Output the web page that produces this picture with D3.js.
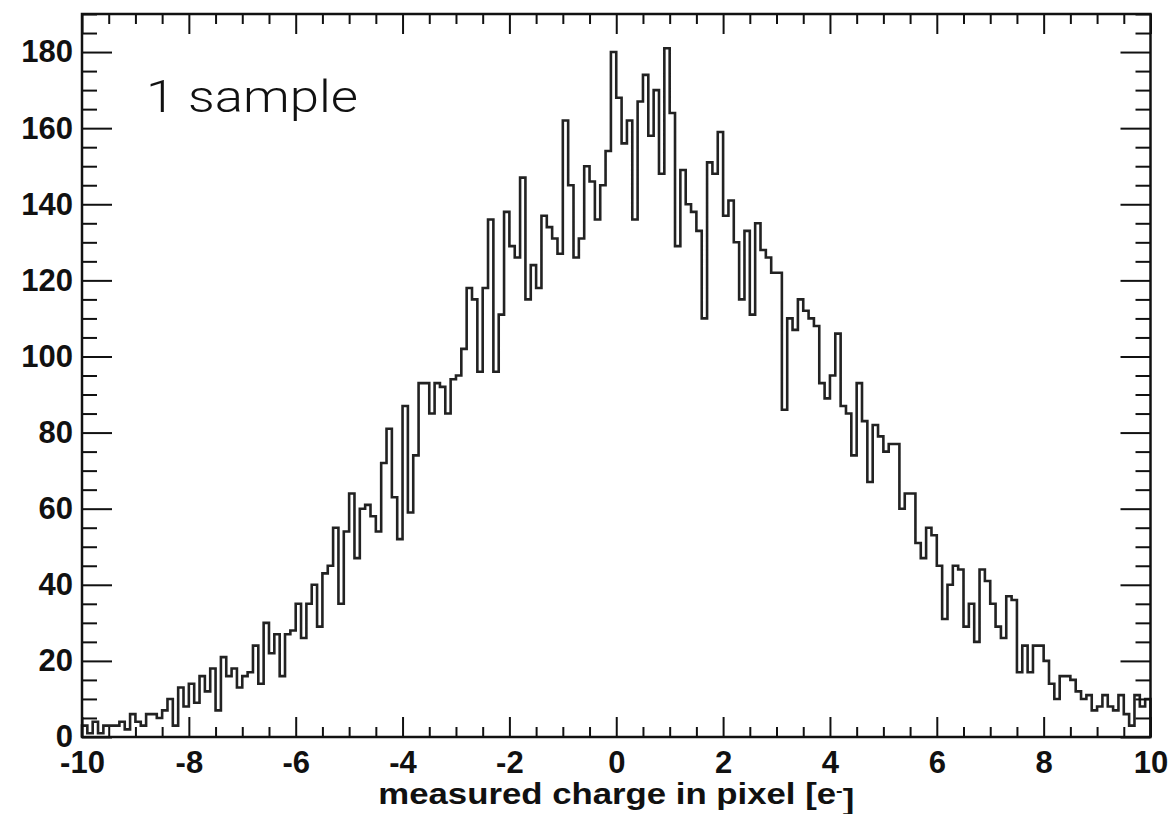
<!DOCTYPE html>
<html>
<head>
<meta charset="utf-8">
<script src="https://cdn.jsdelivr.net/npm/d3@7"></script>
<style>
  body { margin: 0; background: #fff; }
  svg { display: block; }
</style>
</head>
<body>
<svg width="1171" height="814"></svg>
<script>
// histogram: 200 bins from -10 to 10 e-, counts
var binRange = [-10, 10];
var counts = [
   3,  1,  4,  1,  3,  3,  3,  4,  2,  6,   //  -10.0 .. -9.1
   4,  3,  6,  6,  5,  7, 10,  3, 13,  8,   //   -9.0 .. -8.1
  14,  9, 16, 12, 18,  7, 21, 16, 18, 13,   //   -8.0 .. -7.1
  16, 17, 24, 14, 30, 22, 27, 16, 27, 28,   //   -7.0 .. -6.1
  35, 26, 35, 40, 29, 43, 45, 55, 35, 54,   //   -6.0 .. -5.1
  64, 47, 60, 61, 58, 54, 72, 81, 63, 52,   //   -5.0 .. -4.1
  87, 59, 74, 93, 93, 85, 93, 92, 85, 94,   //   -4.0 .. -3.1
  95,102,118,115, 96,118,136, 96,111,138,   //   -3.0 .. -2.1
 129,126,147,115,124,118,137,134,131,127,   //   -2.0 .. -1.1
 162,145,126,131,150,146,136,145,154,180,   //   -1.0 .. -0.1
 168,156,162,136,167,174,158,170,148,181,   //    0.0 ..  0.9
 164,129,149,140,138,133,110,151,148,159,   //    1.0 ..  1.9
 137,141,130,115,133,111,135,128,126,122,   //    2.0 ..  2.9
 122, 86,110,107,115,112,110,108, 93, 89,   //    3.0 ..  3.9
  95,106, 87, 85, 74, 93, 83, 67, 82, 79,   //    4.0 ..  4.9
  75, 77, 77, 60, 64, 64, 51, 47, 55, 53,   //    5.0 ..  5.9
  45, 31, 40, 45, 44, 29, 35, 25, 44, 41,   //    6.0 ..  6.9
  35, 29, 26, 37, 36, 17, 24, 17, 24, 24,   //    7.0 ..  7.9
  20, 14, 10, 16, 16, 15, 12, 10, 11,  7,   //    8.0 ..  8.9
   8, 11,  8,  7, 11,  6,  3, 11,  8, 10    //    9.0 ..  9.9
];

var yMajorTicks = [0, 20, 40, 60, 80, 100, 120, 140, 160, 180];
var yMinorTicks = d3.range(0, 191, 5);
var xMajorTicks = [-10, -8, -6, -4, -2, 0, 2, 4, 6, 8, 10];
var xMinorTicks = d3.range(-10, 10.01, 0.5);
var xTitle = "measured charge in pixel [e";
var annotation = "1 sample";

var svg = d3.select("svg"),
    margin = {top: 14, right: 20.5, bottom: 77, left: 82},
    width = +svg.attr("width"),
    height = +svg.attr("height");

var x = d3.scaleLinear().domain(binRange).range([margin.left, width - margin.right]),
    y = d3.scaleLinear().domain([0, 190]).range([height - margin.bottom, margin.top]);

// bin edges -> step outline, closed down to zero at both ends (ROOT style)
var nBins = counts.length,
    binW = (binRange[1] - binRange[0]) / nBins;
var pts = [[binRange[0], 0]];
counts.forEach(function (c, i) {
    pts.push([binRange[0] + i * binW, c]);
});
pts.push([binRange[1], counts[nBins - 1]]);
pts.push([binRange[1], 0]);

var line = d3.line()
    .curve(d3.curveStepAfter)
    .x(function (d) { return x(d[0]); })
    .y(function (d) { return y(d[1]); });

svg.append("path")
    .datum(pts)
    .attr("d", line)
    .attr("fill", "none")
    .attr("stroke", "#222")
    .attr("stroke-width", 2.6)
    .attr("stroke-linejoin", "miter");

// ticks: major + minor on all four sides, pointing inward
function clean(g) {
    g.select(".domain").remove();
    g.selectAll(".tick line").attr("stroke", "#111").attr("stroke-width", 2);
}
var notMajorY = function (v) { return yMajorTicks.indexOf(v) < 0; };
var notMajorX = function (v) { return xMajorTicks.indexOf(v) < 0; };

var labelFont = function (sel) {
    sel.selectAll("text")
        .attr("fill", "#111")
        .style("font-family", "'Liberation Sans', Arial, Helvetica, sans-serif")
        .style("font-weight", "bold")
        .style("font-size", "31px");
};

svg.append("g")
    .attr("transform", "translate(" + x.range()[0] + ",0)")
    .call(d3.axisLeft(y).tickValues(yMajorTicks).tickSize(-30).tickSizeOuter(0).tickPadding(9)
        .tickFormat(d3.format("d")))
    .call(clean)
    .call(labelFont);
svg.append("g")
    .attr("transform", "translate(" + x.range()[0] + ",0)")
    .call(d3.axisLeft(y).tickValues(yMinorTicks.filter(notMajorY)).tickSize(-15).tickFormat(""))
    .call(clean);

svg.append("g")
    .attr("transform", "translate(" + x.range()[1] + ",0)")
    .call(d3.axisRight(y).tickValues(yMajorTicks).tickSize(-30).tickFormat(""))
    .call(clean);
svg.append("g")
    .attr("transform", "translate(" + x.range()[1] + ",0)")
    .call(d3.axisRight(y).tickValues(yMinorTicks.filter(notMajorY)).tickSize(-15).tickFormat(""))
    .call(clean);

svg.append("g")
    .attr("transform", "translate(0," + y.range()[0] + ")")
    .call(d3.axisBottom(x).tickValues(xMajorTicks).tickSize(-20).tickPadding(14)
        .tickFormat(d3.format("d")))
    .call(clean)
    .call(labelFont)
    .call(function (g) { g.selectAll("text").text(function (d) { return d < 0 ? "-" + (-d) : d; }); });
svg.append("g")
    .attr("transform", "translate(0," + y.range()[0] + ")")
    .call(d3.axisBottom(x).tickValues(xMinorTicks.filter(notMajorX)).tickSize(-10).tickFormat(""))
    .call(clean);

svg.append("g")
    .attr("transform", "translate(0," + y.range()[1] + ")")
    .call(d3.axisTop(x).tickValues(xMajorTicks).tickSize(-20).tickFormat(""))
    .call(clean);
svg.append("g")
    .attr("transform", "translate(0," + y.range()[1] + ")")
    .call(d3.axisTop(x).tickValues(xMinorTicks.filter(notMajorX)).tickSize(-10).tickFormat(""))
    .call(clean);

// frame
svg.append("rect")
    .attr("x", x.range()[0])
    .attr("y", y.range()[1])
    .attr("width", x.range()[1] - x.range()[0])
    .attr("height", y.range()[0] - y.range()[1])
    .attr("fill", "none")
    .attr("stroke", "#111")
    .attr("stroke-width", 2.5);

// x axis title, centred under the axis, with superscript minus
var title = svg.append("text")
    .attr("x", (x.range()[0] + x.range()[1]) / 2)
    .attr("y", 804)
    .attr("text-anchor", "middle")
    .attr("fill", "#111")
    .attr("textLength", 476)
    .attr("lengthAdjust", "spacingAndGlyphs")
    .style("font-family", "'Liberation Sans', Arial, Helvetica, sans-serif")
    .style("font-weight", "bold")
    .style("font-size", "30px")
    .text(xTitle);
title.append("tspan")
    .attr("dy", "-0.45em")
    .style("font-size", "17px")
    .text("-");
title.append("tspan")
    .attr("dy", "0.45em")
    .text("]");

// annotation
svg.append("text")
    .attr("x", 146)
    .attr("y", 112)
    .attr("fill", "#111")
    .attr("textLength", 212)
    .attr("lengthAdjust", "spacingAndGlyphs")
    .style("font-family", "Roboto, Lato, 'Open Sans', sans-serif")
    .style("font-weight", "300")
    .style("font-size", "44px")
    .text(annotation);
</script>
</body>
</html>
